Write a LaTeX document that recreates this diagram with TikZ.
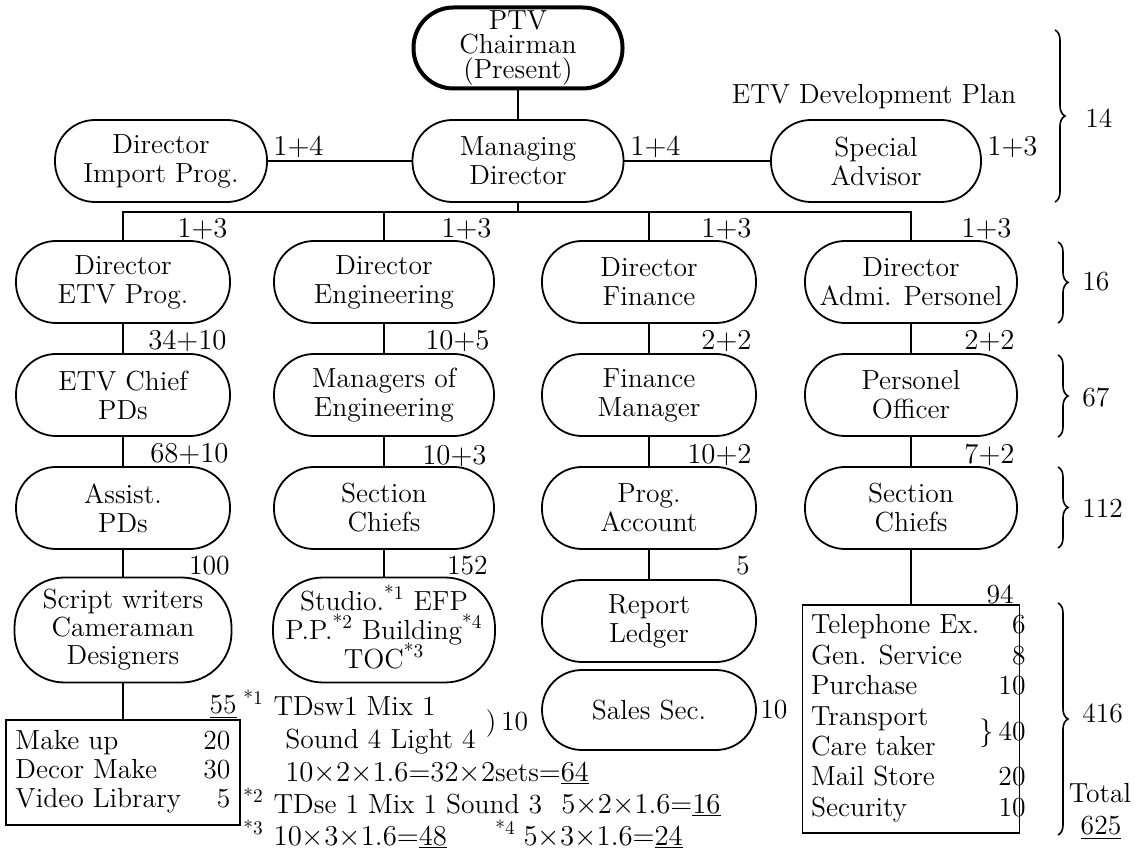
\documentclass[tikz,border=0pt]{standalone}
\usepackage{fontspec}
\usetikzlibrary{decorations.pathreplacing}
\begin{document}
\begin{tikzpicture}[x=0.5pt,y=-0.5pt,
  every node/.style={font=\fontsize{13.8}{14.5}\selectfont, inner sep=0pt},
  pill/.style={draw, line width=0.9pt, rounded corners=20pt, minimum width=107pt, minimum height=41pt, align=center},
  tall/.style={pill, rounded corners=25pt, minimum height=52.5pt},
  sq/.style={draw, line width=0.9pt, rectangle},
  lbl/.style={anchor=east},
  lblw/.style={anchor=west},
  note/.style={anchor=base west},
  conn/.style={line width=0.9pt},
  br/.style={decorate, decoration={brace, amplitude=5pt}, line width=0.8pt}
]
\useasboundingbox (0,0) rectangle (1135,860);

% top rows
\node[pill, line width=2pt, minimum width=104.5pt, minimum height=40.5pt, font=\fontsize{13.8}{12.3}\selectfont] (chair) at (518,48) {PTV\\Chairman\\(Present)};
\node[pill, minimum width=106pt] (imp) at (161,161) {Director\\Import Prog.};
\node[pill, minimum width=105.5pt] (md) at (518,161) {Managing\\Director};
\node[pill, minimum width=105pt] (sa) at (876,161) {Special\\Advisor};
\node (plan) at (874,97) {ETV Development Plan};
\node[lbl] (l14a) at (324,147) {$1{+}4$};
\node[lbl] (l14b) at (681,147) {$1{+}4$};
\node[lbl] (l13s) at (1038,147) {$1{+}3$};

% directors
\node[pill] (d1) at (123,282) {Director\\ETV Prog.};
\node[pill, minimum width=110pt] (d2) at (384,282) {Director\\Engineering};
\node[pill] (d3) at (649,282) {Director\\Finance};
\node[pill, minimum width=106pt] (d4) at (911,282) {Director\\Admi. Personel};
% row 4
\node[pill] (m1) at (123,395) {ETV Chief\\PDs};
\node[pill, minimum width=110pt] (m2) at (384,395) {Managers of\\Engineering};
\node[pill] (m3) at (649,395) {Finance\\Manager};
\node[pill, minimum width=106pt] (m4) at (911,395) {Personel\\Officer};
% row 5
\node[pill] (s1) at (123,508) {Assist.\\PDs};
\node[pill, minimum width=110pt] (s2) at (384,508) {Section\\Chiefs};
\node[pill] (s3) at (649,508) {Prog.\\Account};
\node[pill, minimum width=106pt] (s4) at (911,508) {Section\\Chiefs};
% row 6
\node[tall, minimum width=108.5pt, font=\fontsize{13.8}{14}\selectfont] (w1) at (123,630) {Script writers\\Cameraman\\Designers};
\node[tall, minimum width=111pt, font=\fontsize{13.8}{14.5}\selectfont] (w2) at (384,630) {Studio.\smash{\textsuperscript{*1}} EFP\\P.P.\smash{\textsuperscript{*2}} Building\smash{\textsuperscript{*4}}\\TOC\smash{\textsuperscript{*3}}};
\node[pill] (w3) at (649,621) {Report\\Ledger};
\node[pill, minimum height=40pt] (sales) at (649,710) {Sales Sec.};

\node[sq, minimum width=108.5pt, minimum height=114pt] (b94) at (911,719) {\renewcommand{\arraystretch}{1.05}\begin{tabular*}{100pt}{@{}l@{\extracolsep{\fill}}r@{}}Telephone Ex. & 6\\ Gen. Service & 8\\ Purchase & 10\\ Transport & \raisebox{-7.6pt}[0pt][0pt]{$\}$\,40}\\ Care taker & \\ Mail Store & 20\\ Security & 10\end{tabular*}};
\node[sq, minimum width=117pt, minimum height=52.5pt] (b55) at (123,772.5) {\begin{tabular*}{107.5pt}{@{}l@{\extracolsep{\fill}}r@{}}Make up & 20\\ Decor Make & 30\\ Video Library & 5\end{tabular*}};

% count labels
\node[lbl] (c1a) at (228,229) {$1{+}3$};
\node[lbl] (c2a) at (492,229) {$1{+}3$};
\node[lbl] (c3a) at (752,229) {$1{+}3$};
\node[lbl] (c4a) at (1012,229) {$1{+}3$};
\node[lbl] (c1b) at (227,341) {$34{+}10$};
\node[lbl] (c2b) at (490,341) {$10{+}5$};
\node[lbl] (c3b) at (752,341) {$2{+}2$};
\node[lbl] (c4b) at (1015,341) {$2{+}2$};
\node[lbl] (c1c) at (229,454) {$68{+}10$};
\node[lbl] (c2c) at (487,456) {$10{+}3$};
\node[lbl] (c3c) at (752,455) {$10{+}2$};
\node[lbl] (c4c) at (1015,455) {$7{+}2$};
\node[lbl] (c1d) at (230,566) {100};
\node[lbl] (c2d) at (488,566) {152};
\node[lbl] (c3d) at (750,566) {5};
\node[lbl] (c4d) at (1014,594) {94};
\node[lbl] (c55) at (237,707) {\underline{55}};
\node[lblw] (c10) at (760,710) {10};

% notes
\node[note] (n1) at (243,715) {\textsuperscript{*1}\hspace{5pt}TDsw1 Mix 1};
\node (n1b) at (507,724) {)\,10};
\node[note] (n2) at (285,748) {Sound 4 Light 4};
\node[note] (n3) at (285,781) {$10{\times}2{\times}1.6{=}32{\times}2$sets${=}\underline{64}$};
\node[note] (n4) at (243,813) {\textsuperscript{*2}\hspace{5pt}TDse 1 Mix 1 Sound 3};
\node[note] (n4b) at (561,813) {$5{\times}2{\times}1.6{=}\underline{16}$};
\node[note] (n5) at (243,845) {\smash{\textsuperscript{*3}}\hspace{5pt}$10{\times}3{\times}1.6{=}\underline{48}$};
\node[note] (n5b) at (495,845) {\smash{\textsuperscript{*4}}\hspace{4pt}$5{\times}3{\times}1.6{=}\underline{24}$};

% braces and totals
\draw[br] (1055,30) -- (1055,202);
\draw[br] (1058,242) -- (1058,323);
\draw[br] (1058,355) -- (1058,437);
\draw[br] (1058,467) -- (1058,548);
\draw[br] (1058,603) -- (1058,835);
\node[lblw] (t14) at (1085,118) {14};
\node[lblw] (t16) at (1082,282) {16};
\node[lblw] (t67) at (1082,397) {67};
\node[lblw] (t112) at (1082,508) {112};
\node[lblw] (t416) at (1082,713) {416};
\node (ttl) at (1100,793) {Total};
\node (t625) at (1101,828) {\underline{625}};

% connectors
\coordinate (bus) at (518,212);
\draw[conn] (chair) -- (md);
\draw[conn] (imp) -- (md);
\draw[conn] (md) -- (sa);
\draw[conn] (md.south) -- (bus);
\draw[conn] (d1.north) -- (d1.north |- bus) -- (d4.north |- bus) -- (d4.north);
\draw[conn] (d2.north) -- (d2.north |- bus);
\draw[conn] (d3.north) -- (d3.north |- bus);
\draw[conn] (d1) -- (m1);
\draw[conn] (m1) -- (s1);
\draw[conn] (s1) -- (w1);
\draw[conn] (w1) -- (b55);
\draw[conn] (d2) -- (m2);
\draw[conn] (m2) -- (s2);
\draw[conn] (s2) -- (w2);
\draw[conn] (d3) -- (m3);
\draw[conn] (m3) -- (s3);
\draw[conn] (s3) -- (w3);
\draw[conn] (d4) -- (m4);
\draw[conn] (m4) -- (s4);
\draw[conn] (s4) -- (b94);
\end{tikzpicture}
\end{document}
